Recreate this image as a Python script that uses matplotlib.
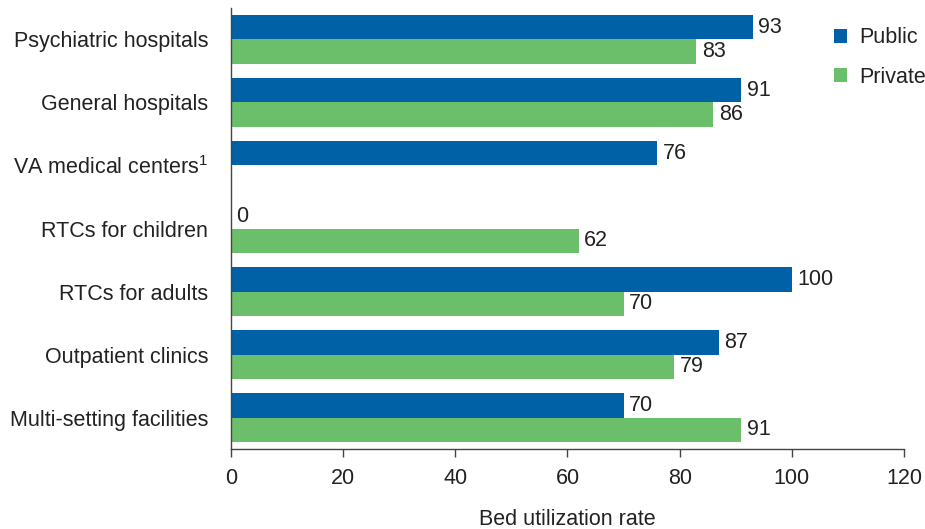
import numpy as np
import matplotlib.pyplot as plt

plt.rcParams['font.family'] = ['Liberation Sans', 'DejaVu Sans']
plt.rcParams['mathtext.fontset'] = 'custom'
plt.rcParams['mathtext.rm'] = 'Liberation Sans'

# data
categories = ['Psychiatric hospitals', 'General hospitals', 'VA medical centers$^{1}$',
              'RTCs for children', 'RTCs for adults', 'Outpatient clinics',
              'Multi-setting facilities']
public = [93, 91, 76, 0, 100, 87, 70]
private = [83, 86, None, 62, 70, 79, 91]

BLUE = '#0061a6'
GREEN = '#6cbf6a'
FS = 15.5

fig = plt.figure(figsize=(9.25, 5.29), dpi=100)
ax = fig.add_axes([0.2497, 0.1512, 0.7276, 0.8337])

y = np.arange(len(categories))
h = 0.39

pub_vals = [v if v is not None else 0 for v in public]
priv_vals = [v if v is not None else 0 for v in private]
ax.barh(y - h / 2, pub_vals, height=h, color=BLUE, label='Public')
ax.barh(y + h / 2, priv_vals, height=h, color=GREEN, label='Private')

# value labels
for i in range(len(categories)):
    if public[i] is not None:
        ax.text(public[i] + 1.0, y[i] - h / 2, str(public[i]), va='center', ha='left',
                fontsize=FS, color='#222222')
    if private[i] is not None:
        ax.text(private[i] + 1.0, y[i] + h / 2, str(private[i]), va='center', ha='left',
                fontsize=FS, color='#222222')

ax.set_xlim(0, 120)
ax.set_ylim(6.5, -0.5)
ax.set_xticks(range(0, 121, 20))
ax.set_yticks(y)
ax.set_yticklabels(categories)
ax.tick_params(axis='y', length=0, pad=16.5, labelsize=FS, labelcolor='#222222')
ax.tick_params(axis='x', length=6, width=1, color='#444444', labelsize=FS,
               labelcolor='#222222', pad=8)
ax.spines['top'].set_visible(False)
ax.spines['right'].set_visible(False)
for s in ['left', 'bottom']:
    ax.spines[s].set_color('#444444')
    ax.spines[s].set_linewidth(1)

ax.set_xlabel('Bed utilization rate', fontsize=FS, color='#222222', labelpad=14)

leg = ax.legend(loc='upper right', bbox_to_anchor=(1.062, 1.0), frameon=False,
                fontsize=FS, handlelength=0.6, handleheight=0.6,
                labelspacing=0.85, handletextpad=0.6)
for t in leg.get_texts():
    t.set_color('#222222')

fig.savefig('out.png', dpi=100)
